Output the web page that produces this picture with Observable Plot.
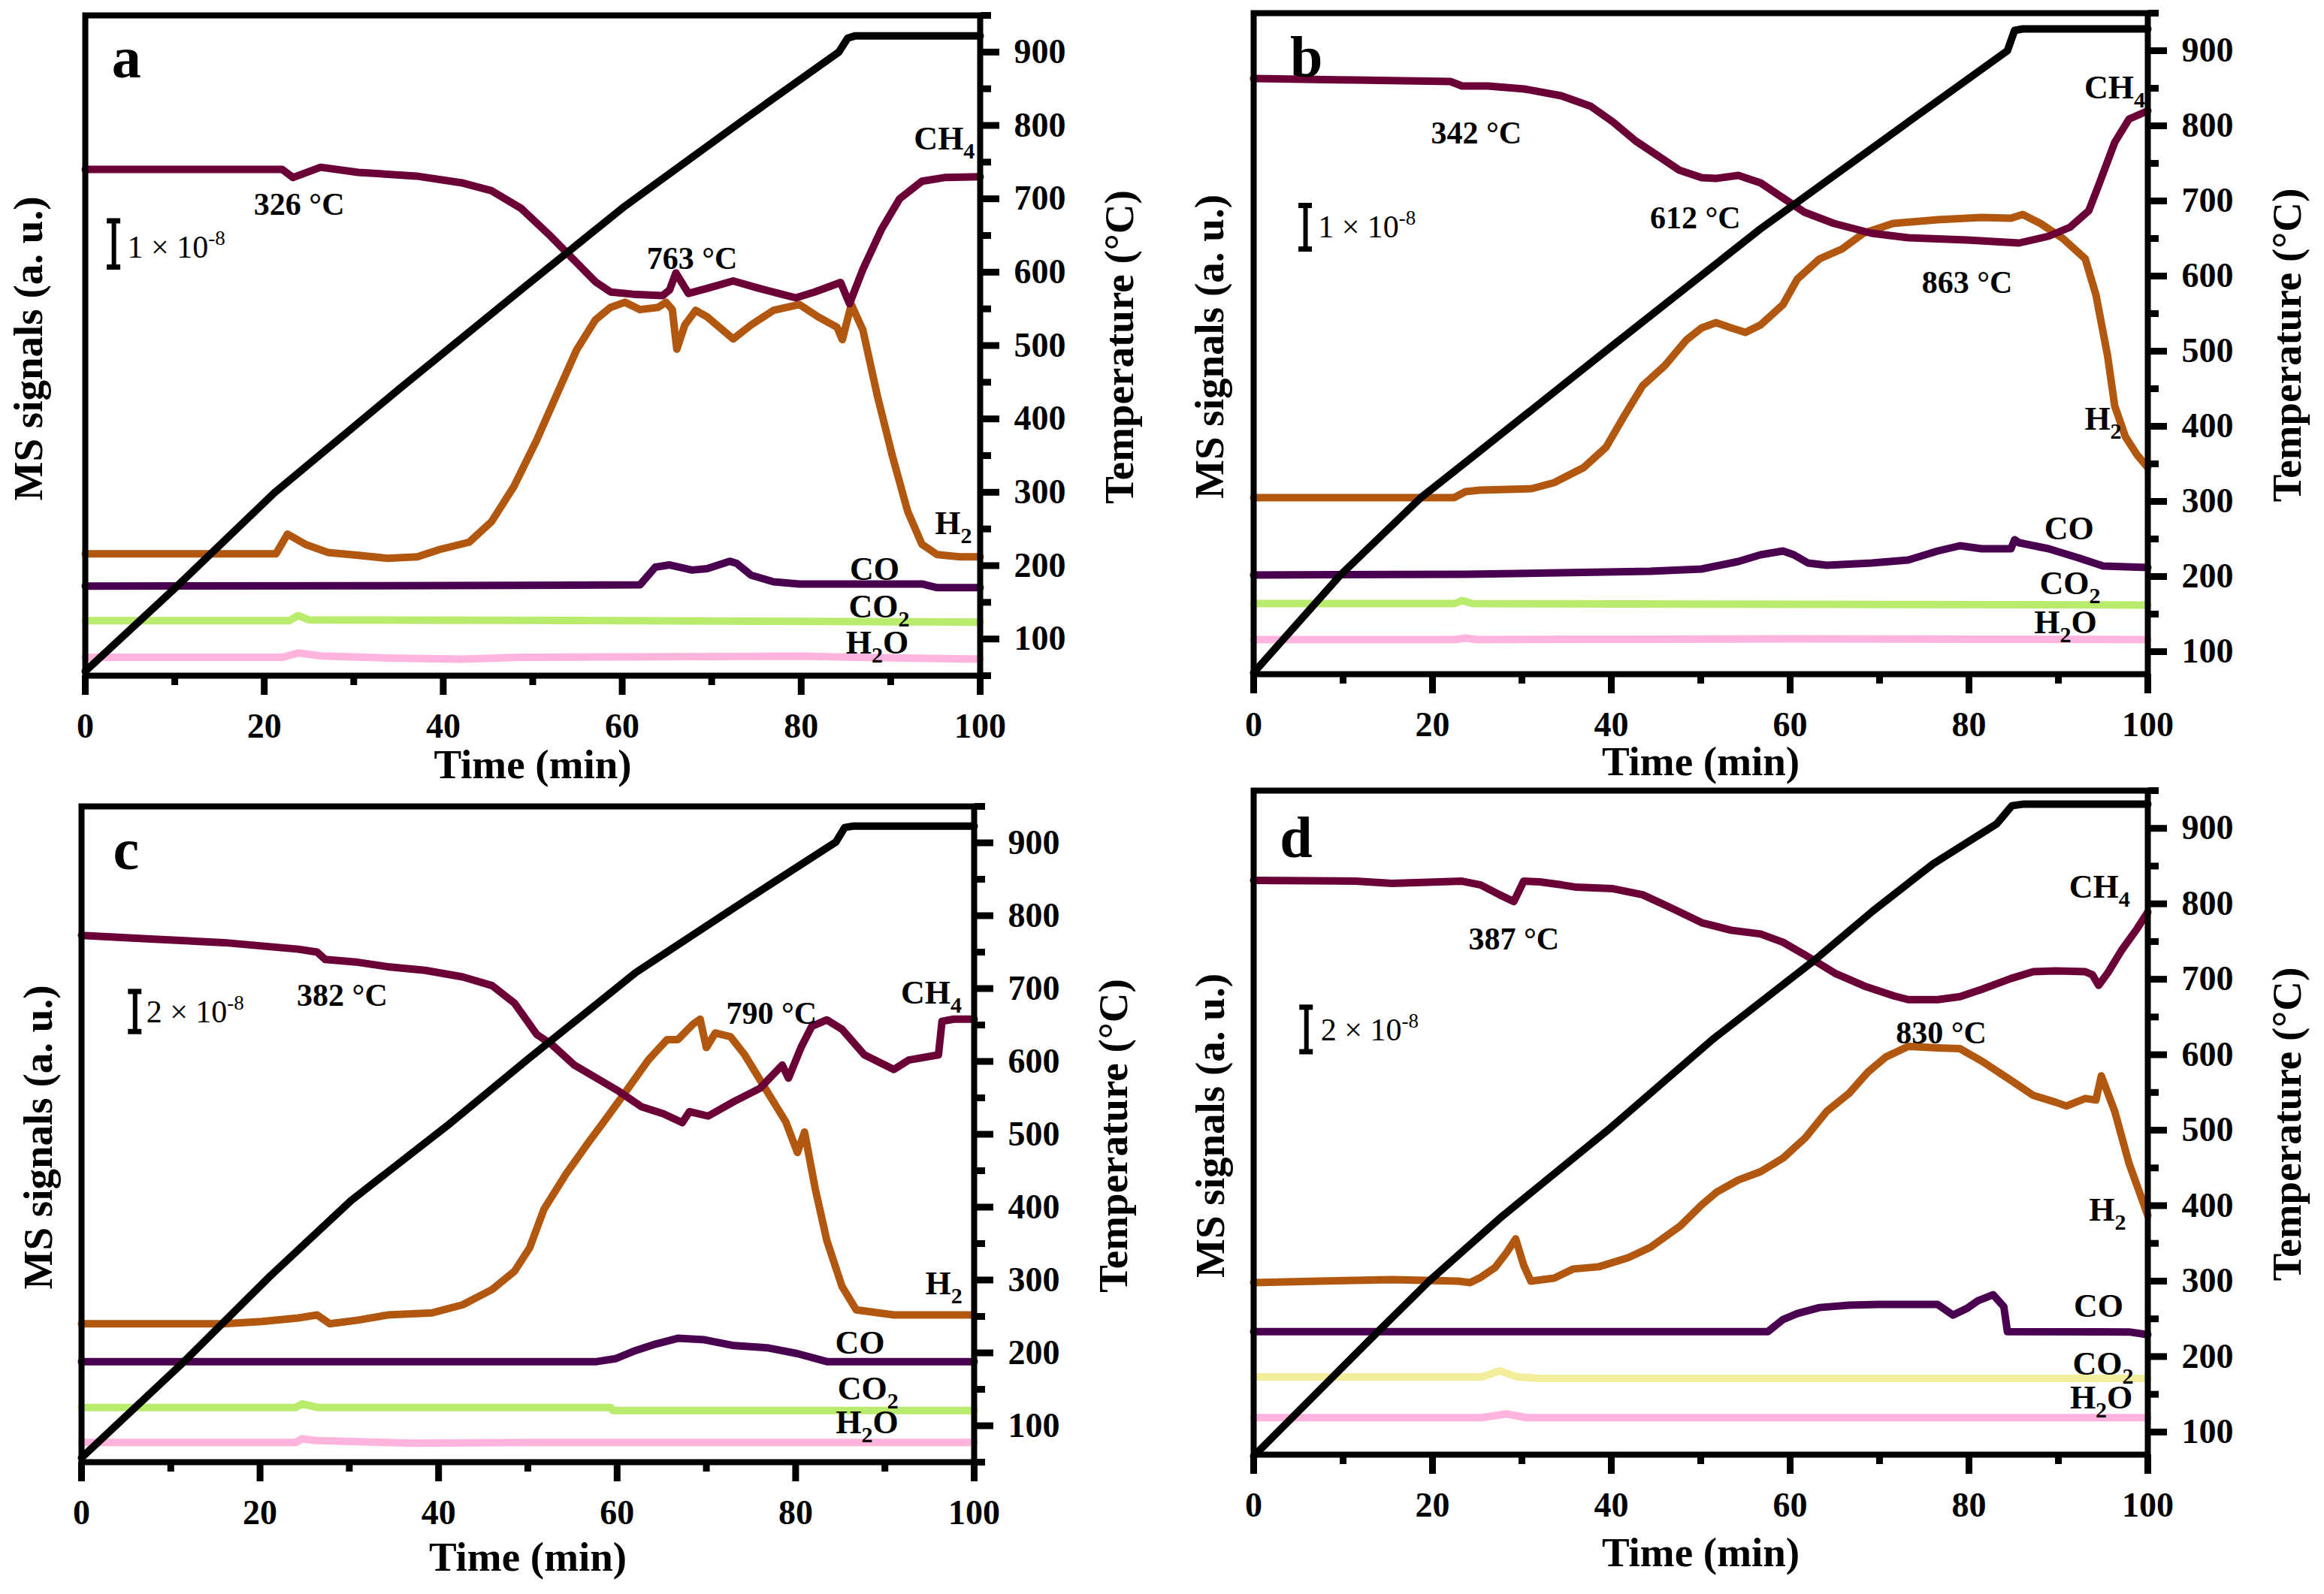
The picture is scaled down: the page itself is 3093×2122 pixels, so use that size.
<!DOCTYPE html>
<html><head><meta charset="utf-8">
<script src="https://cdn.jsdelivr.net/npm/d3@7"></script>
<script src="https://cdn.jsdelivr.net/npm/@observablehq/plot@0.6"></script>
<style>
html,body{margin:0;padding:0;background:#fff;}
#wrap{position:relative;width:3093px;height:2122px;background:#fff;overflow:hidden;}
#wrap svg{position:absolute;overflow:visible;background:transparent;}
</style></head><body><div id="wrap"></div>
<script>
// ---------- shared tick values ----------
const xMajor = [0, 20, 40, 60, 80, 100];
const xMinor = [10, 30, 50, 70, 90];
const tMajor = [100, 200, 300, 400, 500, 600, 700, 800, 900];
const tMinor = [50, 150, 250, 350, 450, 550, 650, 750, 850, 950];

// ---------- panel a ----------
const a_T = [[0,56],[10,169],[21.1,299],[35,440],[49.2,581],[60.3,690],[73.6,808],[84.2,900],[85.2,919],[86,922],[100,922]];
const a_CH4 = [[0,740],[22,740],[23.2,729],[26.3,743],[30.5,736],[37,731],[42,722],[45.4,711],[48.7,687],[52,649],[54.5,618],[57,587],[58.7,573],[61.2,570],[64.5,568],[65.3,576],[66,599],[67.4,571],[69.5,578],[72.4,588],[75.3,578],[77.8,570],[79.4,565],[81.5,573],[84.4,586],[85.4,557],[86.9,604],[89,659],[91,700],[93.5,724],[96,729],[100,730]];
const a_H2 = [[0,216],[21.3,216],[22.6,243],[24.6,229],[27.1,218],[30.5,214],[33.8,210],[37.1,212],[39.6,222],[42.9,232],[45.4,260],[47.9,308],[50.4,370],[52.9,439],[54.9,494],[57,535],[58.7,552],[60.3,559],[62,549],[64,552],[64.9,559],[65.6,549],[66.1,495],[67,528],[68.2,548],[69.5,539],[72.4,509],[74.4,528],[76.9,548],[79.8,556],[81.9,539],[84,525],[84.6,508],[85.6,556],[86.9,521],[88.5,432],[90.2,349],[91.9,274],[93.5,229],[95.2,215],[97.7,212],[100,212]];
const a_CO = [[0,172],[48,173],[62,174],[63.7,198],[65.3,201],[67.8,194],[69.5,196],[72,206],[72.8,203],[74.4,187],[76.9,178],[79.8,175],[93.5,175],[95.2,170],[100,170]];
const a_CO2 = [[0,125],[22.8,125],[23.8,132],[25,126],[60,125],[100,123]];
const a_H2O = [[0,75],[22,75],[23.8,81],[26.3,77],[33.8,74],[42,72.5],[48.7,75],[80.2,76.6],[86,75],[100,72.5]];
const a_notes = [{x:23.9,y:692,s:"326 °C"},{x:67.8,y:618,s:"763 °C"}];
const a_species = [{x:96,y:782,s:"CH_4"},{x:97,y:257,s:"H_2"},{x:88.2,y:195,s:"CO"},{x:88.7,y:144,s:"CO_2"},{x:88.5,y:95,s:"H_2O"}];
const a_bar = {t:3.2, y1:607, y2:670, lx:4.7, ly:634, s:"1 × 10^-8"};
const a_letter = {x:4.6, y:866, s:"a"};

// ---------- panel b ----------
const b_T = [[0,72],[9.7,202],[18.7,305],[23.7,352],[40.2,508],[56.7,663],[73.2,805],[84.3,900],[85.1,927],[86,929],[100,929]];
const b_CH4 = [[0,863],[11.3,861],[22,859],[23.3,853],[26.2,853],[30.3,849],[34.4,840],[37.7,826],[40.2,805],[42.7,780],[45.1,761],[47.6,741],[50.1,731],[51.7,730],[54.2,734],[56.7,724],[59.2,704],[61.6,685],[64.9,670],[69.1,657],[73.2,651],[79.8,648],[85.6,644],[88.9,653],[91.3,665],[93.4,687],[94.6,724],[96.3,778],[97.9,809],[100,820]];
const b_H2 = [[0,305],[22.4,305],[23.7,313],[25.3,315],[31.1,317],[33.6,325],[36.9,345],[39.4,372],[41.4,413],[43.5,454],[46,481],[48.4,515],[50.1,531],[51.7,538],[53.4,531],[55,525],[56.7,535],[59.2,562],[60.8,596],[63.3,623],[65.8,636],[68.2,657],[71.5,670],[76.5,675],[81.4,678],[84.7,677],[86,682],[88,670],[90.5,650],[93,623],[94.2,575],[95.5,494],[96.3,427],[97.5,386],[98.8,362],[100,345]];
const b_CO = [[0,202],[23.7,203],[44.3,207],[50.1,210],[54.2,220],[56.7,229],[59.2,234],[60.4,229],[62,218],[64.1,215],[69.1,218],[73.2,222],[76.5,234],[79,241],[81.4,237],[84.7,237],[85.1,249],[85.6,245],[88.9,237],[92.2,225],[95,214],[100,212]];
const b_CO2 = [[0,164],[22.5,164],[23.3,168],[24.5,164],[100,162]];
const b_H2O = [[0,116],[22.5,116],[23.7,118],[25,116],[60,117],[100,116]];
const b_notes = [{x:24.9,y:790,s:"342 °C"},{x:49.4,y:677,s:"612 °C"},{x:79.8,y:591,s:"863 °C"}];
const b_species = [{x:96.3,y:851,s:"CH_4"},{x:95,y:410,s:"H_2"},{x:91.2,y:264,s:"CO"},{x:91.3,y:191,s:"CO_2"},{x:90.8,y:139,s:"H_2O"}];
const b_bar = {t:5.8, y1:636, y2:694, lx:7.2, ly:665, s:"1 × 10^-8"};
const b_letter = {x:5.9, y:866, s:"b"};

// ---------- panel c ----------
const c_T = [[0,56],[11.4,187],[21.1,305],[30.2,409],[41.3,515],[50.1,604],[62.1,722],[73,810],[84.5,901],[85.5,921],[86.5,923],[100,923]];
const c_CH4 = [[0,773],[7.7,768],[16,763],[24.3,754],[26.4,750],[27.3,740],[31,736],[34.3,730],[38.5,725],[42.7,716],[46,704],[48.5,680],[51,637],[52.7,623],[55.2,595],[57.7,577],[60.2,559],[62.7,538],[65.2,528],[67.3,516],[68.1,531],[70.2,525],[73.1,545],[76,563],[78.5,595],[79.2,577],[80.6,619],[81.8,648],[83.5,657],[85.2,644],[87.7,609],[91,589],[92.7,602],[96,609],[96.4,655],[97.7,658],[100,658]];
const c_H2 = [[0,240],[16,240],[20.2,243],[24.3,248],[26.4,252],[27.8,240],[31,245],[34.3,252],[39.3,255],[42.7,266],[46,287],[48.5,312],[50.2,344],[51.8,397],[54.3,446],[56.8,489],[58.5,517],[61,559],[63.5,602],[65.6,630],[66.8,630],[68.5,651],[69.3,658],[70,619],[71,639],[72.7,634],[74.3,609],[76.8,559],[78.9,517],[80.2,475],[81,503],[82.2,425],[83.5,354],[85.2,291],[86.8,259],[91,252],[100,252]];
const c_CO = [[0,188],[57.7,188],[59.8,192],[61.8,202],[64.3,212],[66.8,220],[69.8,218],[73.1,210],[76.8,207],[80.2,199],[83.5,188],[100,188]];
const c_CO2 = [[0,125],[24,125],[24.7,130],[26.5,125],[59.3,125],[59.5,121],[100,121]];
const c_H2O = [[0,77],[24,77],[24.7,82],[26,80],[37,76],[50,77],[100,77]];
const c_notes = [{x:29.2,y:690,s:"382 °C"},{x:77.3,y:665,s:"790 °C"}];
const c_species = [{x:95.2,y:694,s:"CH_4"},{x:96.6,y:295,s:"H_2"},{x:87.2,y:213,s:"CO"},{x:88.1,y:151,s:"CO_2"},{x:88,y:104,s:"H_2O"}];
const c_bar = {t:6.0, y1:641, y2:696, lx:7.25, ly:667, s:"2 × 10^-8"};
const c_letter = {x:5.0, y:864, s:"c"};

// ---------- panel d ----------
const d_T = [[0,68],[13.9,233],[19.7,301],[27.8,386],[39.9,503],[51.3,620],[62.7,725],[69.2,790],[76,853],[83.1,906],[84.8,930],[86,932],[100,932]];
const d_CH4 = [[0,831],[11.4,830],[15.5,827],[23.3,830],[25.4,825],[27.5,812],[29.1,803],[30.2,830],[32,829],[34.5,825],[36.1,822],[40.2,820],[43.5,812],[46.8,794],[50.1,775],[53.4,765],[56.7,760],[59.2,749],[61.7,732],[65,708],[68.3,691],[71.6,678],[73.2,673],[76.5,673],[79,677],[81.5,687],[84.7,701],[87.2,710],[89.7,711],[93,710],[93.8,706],[94.5,692],[95.5,708],[97.1,739],[98.8,767],[100,789]];
const d_H2 = [[0,298],[7.3,300],[15.5,302],[22.9,300],[24.2,298],[25.4,305],[27,318],[28.3,338],[29.3,356],[30.2,321],[31,300],[33.6,304],[35.7,316],[38.6,319],[41.9,331],[44.4,345],[47.7,373],[50.1,401],[51.8,418],[54.2,434],[56.7,445],[59.2,463],[61.7,490],[64.1,525],[66.6,549],[68.7,577],[70.7,597],[73.2,611],[76.5,609],[79,608],[81.5,591],[84.7,566],[87.2,546],[89.7,537],[90.9,532],[93,542],[94.2,540],[94.8,572],[96.3,525],[97.9,456],[100,387]];
const d_CO = [[0,233],[57.5,233],[59.2,249],[60.8,257],[63.3,265],[66.6,268],[69.9,269],[76.5,269],[78.2,255],[79.8,264],[81,274],[82.7,282],[83.9,266],[84.3,233],[97.9,232.6],[100,229]];
const d_CO2 = [[0,173],[25.5,173],[27.5,181],[29.5,173],[32,171],[100,171]];
const d_H2O = [[0,119],[25.5,119],[28.3,124],[30.5,119],[100,119]];
const d_notes = [{x:29.1,y:753,s:"387 °C"},{x:76.9,y:628,s:"830 °C"}];
const d_species = [{x:94.6,y:822,s:"CH_4"},{x:95.5,y:394,s:"H_2"},{x:94.5,y:267,s:"CO"},{x:95,y:190,s:"CO_2"},{x:94.8,y:145,s:"H_2O"}];
const d_bar = {t:5.9, y1:604, y2:663, lx:7.5, ly:632, s:"2 × 10^-8"};
const d_letter = {x:4.75, y:862, s:"d"};

// ---------- styling ----------
const COL = {CH4:"#6b0037", H2:"#b1570f", CO:"#48004f", CO2:"#b9ec6d", CO2d:"#f2ee9c", H2O:"#ffb4de"};
const FONT = "Liberation Serif, Times New Roman, serif";

const panels = [
  {left:0, top:0, w:1550, h:1045, mL:113, mT:20, mR:246, mB:146, dom:[50,950], T:a_T, CH4:a_CH4, H2:a_H2, CO:a_CO, CO2:a_CO2, H2O:a_H2O, notes:a_notes, species:a_species, bar:a_bar, letter:a_letter, co2:COL.CO2, msDx:-75, timeDy:119},
  {left:1560, top:0, w:1533, h:1045, mL:108, mT:17, mR:235, mB:148, dom:[70,950], T:b_T, CH4:b_CH4, H2:b_H2, CO:b_CO, CO2:b_CO2, H2O:b_H2O, notes:b_notes, species:b_species, bar:b_bar, letter:b_letter, co2:COL.CO2, msDx:-58, timeDy:117},
  {left:0, top:1045, w:1550, h:1077, mL:108, mT:28, mR:254, mB:176, dom:[50,950], T:c_T, CH4:c_CH4, H2:c_H2, CO:c_CO, CO2:c_CO2, H2O:c_H2O, notes:c_notes, species:c_species, bar:c_bar, letter:c_letter, co2:COL.CO2, msDx:-57, timeDy:127},
  {left:1560, top:1045, w:1533, h:1077, mL:108, mT:7, mR:235, mB:186, dom:[70,950], T:d_T, CH4:d_CH4, H2:d_H2, CO:d_CO, CO2:d_CO2, H2O:d_H2O, notes:d_notes, species:d_species, bar:d_bar, letter:d_letter, co2:COL.CO2d, msDx:-57, timeDy:131}
];

function rich(svg) {
  for (const t of svg.querySelectorAll("text")) {
    const s = t.textContent;
    if (!/[_^]/.test(s)) continue;
    while (t.firstChild) t.removeChild(t.firstChild);
    let off = 0;
    for (const m of s.matchAll(/([_^])(-?\d+)|([^_^]+)/g)) {
      const ts = document.createElementNS("http://www.w3.org/2000/svg", "tspan");
      if (m[1]) {
        const d = m[1] === "_" ? 12 : -17;
        ts.setAttribute("dy", d - off); off = d;
        ts.setAttribute("font-size", m[1] === "_" ? 30 : 27);
        ts.textContent = m[2];
      } else {
        if (off) ts.setAttribute("dy", -off);
        off = 0;
        ts.textContent = m[3];
      }
      t.appendChild(ts);
    }
  }
}

const wrap = document.getElementById("wrap");
const xy = {x: d => d[0], y: d => d[1]};
for (const p of panels) {
  const minor = tMinor.filter(v => v >= p.dom[0] && v <= p.dom[1]);
  const svg = Plot.plot({
    width: p.w, height: p.h,
    marginLeft: p.mL, marginTop: p.mT, marginRight: p.mR, marginBottom: p.mB,
    x: {domain: [0, 100]},
    y: {domain: p.dom},
    style: {fontFamily: FONT, background: "transparent", overflow: "visible", color: "black"},
    marks: [
      Plot.line(p.H2O, {...xy, stroke: COL.H2O, strokeWidth: 10}),
      Plot.line(p.CO2, {...xy, stroke: p.co2, strokeWidth: 10}),
      Plot.line(p.CO, {...xy, stroke: COL.CO, strokeWidth: 10}),
      Plot.line(p.H2, {...xy, stroke: COL.H2, strokeWidth: 10}),
      Plot.line(p.CH4, {...xy, stroke: COL.CH4, strokeWidth: 10}),
      Plot.line(p.T, {...xy, stroke: "black", strokeWidth: 10}),
      Plot.frame({stroke: "black", strokeWidth: 8}),
      Plot.axisX({ticks: xMinor, tickSize: 13, strokeWidth: 9, tickFormat: () => "", label: null}),
      Plot.axisX({ticks: xMajor, tickSize: 26, tickPadding: 24, strokeWidth: 9, fontSize: 46, fontWeight: "bold", label: null}),
      Plot.axisY({anchor: "right", ticks: minor, tickSize: 14, strokeWidth: 9, tickFormat: () => "", label: null}),
      Plot.axisY({anchor: "right", ticks: tMajor, tickSize: 25, tickPadding: 20, strokeWidth: 9, fontSize: 46, fontWeight: "bold", label: null}),
      Plot.ruleX([p.bar], {x: "t", y1: "y1", y2: "y2", stroke: "black", strokeWidth: 6}),
      Plot.ruleY([p.bar.y1, p.bar.y2], {x1: () => p.bar.t, x2: () => p.bar.t, y: d => d, stroke: "black", strokeWidth: 7, insetLeft: -9, insetRight: -9}),
      Plot.text([p.bar], {x: "lx", y: "ly", text: "s", textAnchor: "start", fontSize: 42, fill: "black"}),
      Plot.text(p.notes, {x: "x", y: "y", text: "s", fontSize: 42, fontWeight: "bold", fill: "black"}),
      Plot.text(p.species, {x: "x", y: "y", text: "s", fontSize: 44, fontWeight: "bold", fill: "black"}),
      Plot.text([p.letter], {x: "x", y: "y", text: "s", lineAnchor: "bottom", fontSize: 78, fontWeight: "bold", fill: "black"}),
      Plot.text(["MS signals (a. u.)"], {frameAnchor: "left", text: d => d, textAnchor: "middle", lineAnchor: "middle", rotate: -90, dx: p.msDx, dy: 4, fontSize: 55, fontWeight: "bold", fill: "black"}),
      Plot.text(["Temperature (°C)"], {frameAnchor: "right", text: d => d, textAnchor: "middle", lineAnchor: "middle", rotate: -90, dx: 186, dy: 2, fontSize: 55, fontWeight: "bold", fill: "black"}),
      Plot.text(["Time (min)"], {frameAnchor: "bottom", text: d => d, textAnchor: "middle", lineAnchor: "middle", dy: p.timeDy, fontSize: 55, fontWeight: "bold", fill: "black"})
    ]
  });
  svg.style.left = p.left + "px";
  svg.style.top = p.top + "px";
  wrap.appendChild(svg);
  rich(svg);
}
</script>
</body></html>
